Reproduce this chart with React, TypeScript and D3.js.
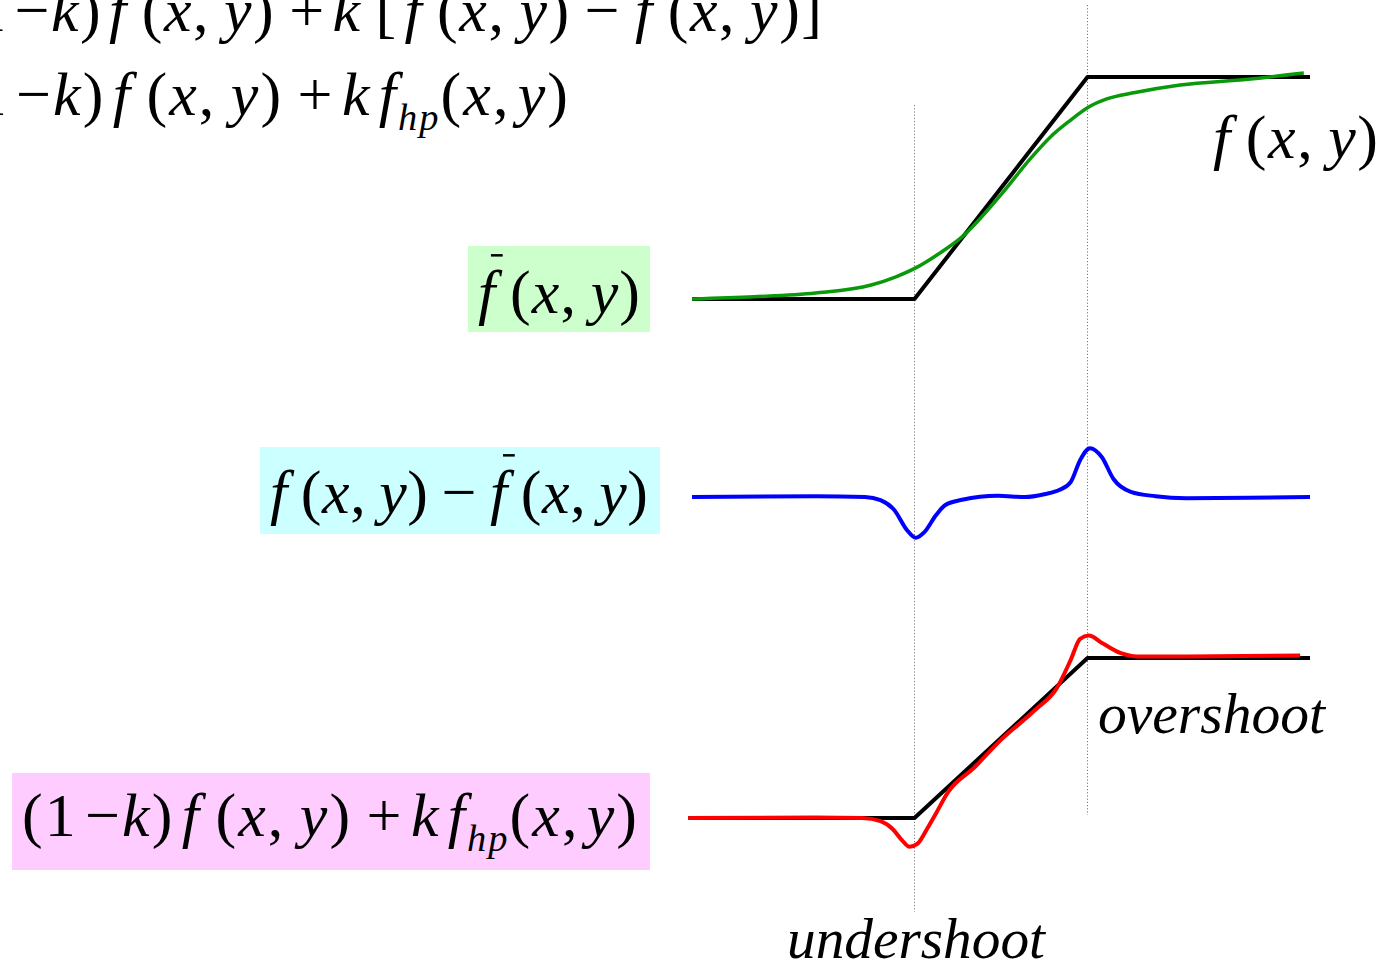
import React, { useEffect, useRef } from "react";
import * as d3 from "d3";

const W = 1387;
const H = 964;
const SERIF = "'Liberation Serif', 'Times New Roman', Tinos, serif";

// Ideal ramp edge f(x,y): flat, linear rise, flat
const stepX = [0, 36, 64, 100];
const stepY = [0, 0, 1, 1];
const stepXLow = [-0.6, 36, 64, 100];

// Blurred edge f̄(x,y)
const blurX = [0, 10, 20, 29, 33, 36.2, 40, 43.7, 50, 55, 58, 61, 64.2, 67, 71.7, 79, 90, 99];
const blurY = [0, 0.01, 0.027, 0.063, 0.1, 0.14, 0.205, 0.28, 0.47, 0.64, 0.73, 0.8, 0.865, 0.9, 0.93, 0.964, 0.99, 1.018];

// Mask f(x,y) - f̄(x,y)
const maskX = [0, 20, 28, 30.5, 32.7, 34.8, 36.2, 37.6, 39.5, 41, 43.7, 49.5, 53.9, 57, 59.5, 61.3, 62.8, 64.4, 66.3, 68.2, 71, 75, 80, 90, 100];
const maskY = [0, 0.02, 0, -0.08, -0.32, -0.83, -1.02, -0.88, -0.45, -0.2, -0.07, 0.03, 0, 0.07, 0.18, 0.38, 0.92, 1.22, 1.0, 0.45, 0.13, 0.02, -0.03, -0.02, 0];

// Sharpened result (1-k)f + k f_hp
const sharpX = [-0.6, 20, 27.5, 30.5, 32.5, 34, 35.2, 36.5, 38, 39.5, 41.4, 45.8, 49.5, 55.5, 59, 61.3, 62.8, 64.2, 66.5, 69.4, 72, 80, 98.4];
const sharpY = [0, 0.003, 0, -0.02, -0.07, -0.14, -0.18, -0.16, -0.07, 0.03, 0.16, 0.32, 0.47, 0.675, 0.81, 0.99, 1.12, 1.14, 1.09, 1.03, 1.01, 1.01, 1.015];

// Edge positions marked with dotted guides
const edgeMarks = [36, 64];

type Tok = { t: string; i?: boolean; sub?: boolean; bar?: boolean };

const HAIR = "\u200A";
const THIN = "\u2009";
const MINUS = "\u2212";

const fxy: Tok[] = [
  { t: "f", i: true },
  { t: THIN + "(" },
  { t: "x", i: true },
  { t: "," + THIN },
  { t: "y", i: true },
  { t: ")" },
];
const fbar: Tok[] = [{ t: "f", i: true, bar: true }, ...fxy.slice(1)];
const fhp: Tok[] = [
  { t: "k", i: true },
  { t: HAIR + "f", i: true },
  { t: "hp", i: true, sub: true },
  { t: "(" },
  { t: "x", i: true },
  { t: "," + HAIR },
  { t: "y", i: true },
  { t: ")" },
];
const oneMinusK: Tok[] = [{ t: "(" }, { t: "1" }, { t: HAIR + MINUS }, { t: "k", i: true }, { t: ")" + HAIR }];
const plus: Tok = { t: THIN + "+" + HAIR };
const minus: Tok = { t: THIN + MINUS + THIN };

const eqLine1: Tok[] = [...oneMinusK, ...fxy, plus, { t: "k", i: true }, { t: THIN + "[" + HAIR }, ...fxy, minus, ...fbar, { t: "]" }];
const eqSharp: Tok[] = [...oneMinusK, ...fxy, plus, ...fhp];
const eqMask: Tok[] = [...fxy, minus, ...fbar];

type Label = { tokens: Tok[]; x: number; y: number; width: number; size: number };

const labels: Label[] = [
  { tokens: eqLine1, x: -47, y: 31, width: 869, size: 62 },
  { tokens: eqSharp, x: -47, y: 115, width: 615, size: 62 },
  { tokens: fxy, x: 1213, y: 158, width: 165, size: 62 },
  { tokens: fbar, x: 478, y: 313, width: 162, size: 62 },
  { tokens: eqMask, x: 270, y: 513, width: 378, size: 62 },
  { tokens: eqSharp, x: 22, y: 836, width: 615, size: 62 },
];

const boxes = [
  { x: 468, y: 246, w: 182, h: 86, fill: "#ccffcc" },
  { x: 260, y: 447, w: 400, h: 87, fill: "#ccffff" },
  { x: 12, y: 773, w: 638, h: 97, fill: "#ffccff" },
];

const words = [
  { t: "overshoot", x: 1098, y: 733, width: 227 },
  { t: "undershoot", x: 787, y: 958, width: 258 },
];

export default function App() {
  const ref = useRef<SVGSVGElement>(null);

  useEffect(() => {
    const svg = d3.select(ref.current);
    svg.selectAll("*").remove();

    const x = d3.scaleLinear().domain([0, 100]).range([692, 1310]);
    const yTop = d3.scaleLinear().domain([0, 1]).range([299, 77]);
    const yMid = d3.scaleLinear().domain([0, 1]).range([497, 457]);
    const yLow = d3.scaleLinear().domain([0, 1]).range([818, 658]);

    svg
      .selectAll("rect.box")
      .data(boxes)
      .join("rect")
      .attr("class", "box")
      .attr("x", (d) => d.x)
      .attr("y", (d) => d.y)
      .attr("width", (d) => d.w)
      .attr("height", (d) => d.h)
      .attr("fill", (d) => d.fill);

    // dotted guides at the edge corners
    const guideSpans = [
      [105, 912],
      [5, 815],
    ];
    edgeMarks.forEach((m, i) => {
      svg
        .append("line")
        .attr("x1", x(m))
        .attr("x2", x(m))
        .attr("y1", guideSpans[i][0])
        .attr("y2", guideSpans[i][1])
        .attr("stroke", "#777")
        .attr("stroke-width", 1)
        .attr("stroke-dasharray", "1.2 2");
    });

    const draw = (
      xs: number[],
      ys: number[],
      yScale: d3.ScaleLinear<number, number>,
      color: string,
      width: number,
      curve: d3.CurveFactory
    ) => {
      const pts = xs.map((v, i) => [v, ys[i]] as [number, number]);
      const gen = d3
        .line<[number, number]>()
        .x((d) => x(d[0]))
        .y((d) => yScale(d[1]))
        .curve(curve);
      svg
        .append("path")
        .attr("d", gen(pts))
        .attr("fill", "none")
        .attr("stroke", color)
        .attr("stroke-width", width)
        .attr("stroke-linejoin", "round");
    };

    draw(stepX, stepY, yTop, "#000", 4, d3.curveLinear);
    draw(blurX, blurY, yTop, "#0a990a", 3.5, d3.curveMonotoneX);
    draw(maskX, maskY, yMid, "#0000ff", 4, d3.curveMonotoneX);
    draw(stepXLow, stepY, yLow, "#000", 4, d3.curveLinear);
    draw(sharpX, sharpY, yLow, "#ff0000", 4, d3.curveMonotoneX);

    labels.forEach((spec) => {
      const text = svg
        .append("text")
        .attr("x", spec.x)
        .attr("y", spec.y)
        .attr("font-family", SERIF)
        .attr("font-size", spec.size)
        .attr("fill", "#000")
        .attr("textLength", spec.width)
        .attr("lengthAdjust", "spacing")
        .style("white-space", "pre");
      let inSub = false;
      let idx = 0;
      const bars: number[] = [];
      const shift = spec.size * 0.24;
      spec.tokens.forEach((tok) => {
        const ts = text
          .append("tspan")
          .text(tok.t)
          .attr("font-style", tok.i ? "italic" : "normal");
        if (tok.sub) {
          ts.attr("font-size", spec.size * 0.62);
          if (!inSub) ts.attr("dy", shift);
          inSub = true;
        } else if (inSub) {
          ts.attr("dy", -shift);
          inSub = false;
        }
        if (tok.bar) bars.push(idx + tok.t.indexOf("f"));
        idx += tok.t.length;
      });
      const node = text.node() as SVGTextElement;
      // overbar for the blurred image f̄
      bars.forEach((ci) => {
        const e = node.getExtentOfChar(ci);
        const bx = e.x + e.width * 0.75;
        const by = spec.y - spec.size * 0.93;
        svg
          .append("line")
          .attr("x1", bx)
          .attr("x2", bx + spec.size * 0.19)
          .attr("y1", by)
          .attr("y2", by)
          .attr("stroke", "#000")
          .attr("stroke-width", 2.5);
      });
    });

    svg
      .selectAll("text.word")
      .data(words)
      .join("text")
      .attr("class", "word")
      .attr("x", (d) => d.x)
      .attr("y", (d) => d.y)
      .attr("font-family", SERIF)
      .attr("font-style", "italic")
      .attr("font-size", 57)
      .attr("textLength", (d) => d.width)
      .attr("lengthAdjust", "spacingAndGlyphs")
      .text((d) => d.t);
  }, []);

  return (
    <svg
      ref={ref}
      width={W}
      height={H}
      style={{ position: "absolute", left: 0, top: 0, background: "#fff" }}
    />
  );
}
